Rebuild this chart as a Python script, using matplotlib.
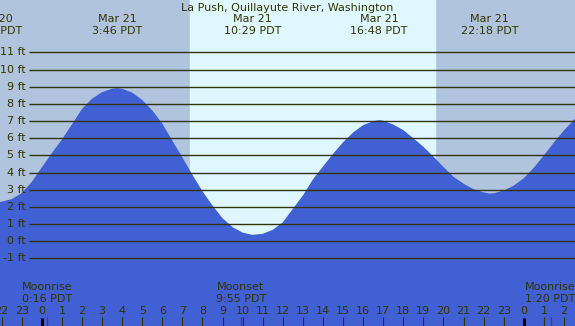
import matplotlib
matplotlib.use('Agg')
import matplotlib.pyplot as plt
from matplotlib.transforms import blended_transform_factory

# hours after midnight Mar 21 (PDT) and tide height in ft
hours = [-2.4, -2.0, -1.5, -1.0, -0.5, 0.0, 0.5, 1.0, 1.5, 2.0, 2.5, 3.0, 3.5, 3.77,
         4.0, 4.5, 5.0, 5.5, 6.0, 6.5, 7.0, 7.5, 8.0, 8.5, 9.0, 9.5, 10.0, 10.48,
         11.0, 11.5, 12.0, 12.5, 13.0, 13.5, 14.0, 14.5, 15.0, 15.5, 16.0, 16.5, 16.8,
         17.0, 17.5, 18.0, 18.5, 19.0, 19.5, 20.0, 20.5, 21.0, 21.5, 22.0, 22.3,
         22.5, 23.0, 23.5, 24.0, 24.5, 25.0, 25.5, 26.0, 26.6]
heights = [2.27, 2.3, 2.45, 2.8, 3.45, 4.3, 5.13, 5.92, 6.8, 7.7, 8.3, 8.68, 8.88, 8.92,
           8.88, 8.66, 8.23, 7.62, 6.85, 5.86, 4.88, 3.87, 2.91, 2.08, 1.34, 0.82, 0.5, 0.37,
           0.43, 0.66, 1.1, 1.88, 2.66, 3.6, 4.35, 5.08, 5.76, 6.33, 6.76, 6.99, 7.05,
           7.02, 6.8, 6.47, 6.0, 5.5, 4.93, 4.33, 3.75, 3.35, 3.03, 2.84, 2.78,
           2.79, 2.95, 3.24, 3.67, 4.28, 5.0, 5.75, 6.45, 7.2]

# high / low labels along the top
extreme_hours = [-2.4, 3.77, 10.48, 16.8, 22.3]
extreme_dates = ['Mar 20', 'Mar 21', 'Mar 21', 'Mar 21', 'Mar 21']
extreme_times = ['21:36 PDT', '3:46 PDT', '10:29 PDT', '16:48 PDT', '22:18 PDT']

# moon events
moon_hours = [0.267, 9.917, 25.333]
moon_names = ['Moonrise', 'Moonset', 'Moonrise']
moon_times = ['0:16 PDT', '9:55 PDT', '1:20 PDT']

sunrise = 7.37
sunset = 19.59
ft_levels = list(range(-1, 12))

ink = '#333300'
night = '#b0c4de'
day = '#dff8ff'
water = '#4060d4'

W, H = 575, 326
fig = plt.figure(figsize=(W / 100, H / 100), dpi=100)
ax = fig.add_axes([0, 0, 1, 1])
x0, x1 = -2.08, 26.55
y0, y1 = -4.94, 14.05
ax.set_xlim(x0, x1)
ax.set_ylim(y0, y1)
ax.axis('off')

ax.axvspan(x0, x1, color=night, zorder=0)
ax.axvspan(sunrise, sunset, color=day, zorder=0)
ax.fill_between(hours, heights, y0, color=water, lw=0, zorder=1)

# horizontal ft lines starting after the labels
px_per_hour = W / (x1 - x0)
grid_start = x0 + 29 / px_per_hour
ax.hlines(ft_levels, grid_start, x1, colors=ink, lw=1.0, zorder=2)
for f in ft_levels:
    ax.text(x0 + 26 / px_per_hour, f, '%d ft' % f, ha='right', va='center',
            fontsize=8, color=ink, zorder=3)

trans = blended_transform_factory(ax.transData, fig.transFigure)

def fy(px):
    return 1 - px / H

fig.text(0.5, fy(8), 'La Push, Quillayute River, Washington', ha='center',
         va='center', fontsize=8, color=ink)
for h, d, t in zip(extreme_hours, extreme_dates, extreme_times):
    ax.text(h, fy(19), d, transform=trans, ha='center', va='center', fontsize=8, color=ink)
    ax.text(h, fy(31), t, transform=trans, ha='center', va='center', fontsize=8, color=ink)

for h, n, t in zip(moon_hours, moon_names, moon_times):
    ax.text(h, fy(287), n, transform=trans, ha='center', va='center', fontsize=8, color=ink)
    ax.text(h, fy(299), t, transform=trans, ha='center', va='center', fontsize=8, color=ink)
    ax.vlines(h, fy(326), fy(317), transform=trans, colors='#e00000', lw=0.8, zorder=4)

for h in range(-2, 27):
    ax.text(h, fy(311), str(h % 24), transform=trans, ha='center', va='center',
            fontsize=8, color=ink)
    if h % 24 == 0:
        ax.vlines(h, fy(326), fy(317.5), transform=trans, colors='black', lw=2.2, zorder=4)
    else:
        ax.vlines(h, fy(326), fy(317), transform=trans, colors=ink, lw=0.8, zorder=4)

fig.savefig('out.png', dpi=100)
